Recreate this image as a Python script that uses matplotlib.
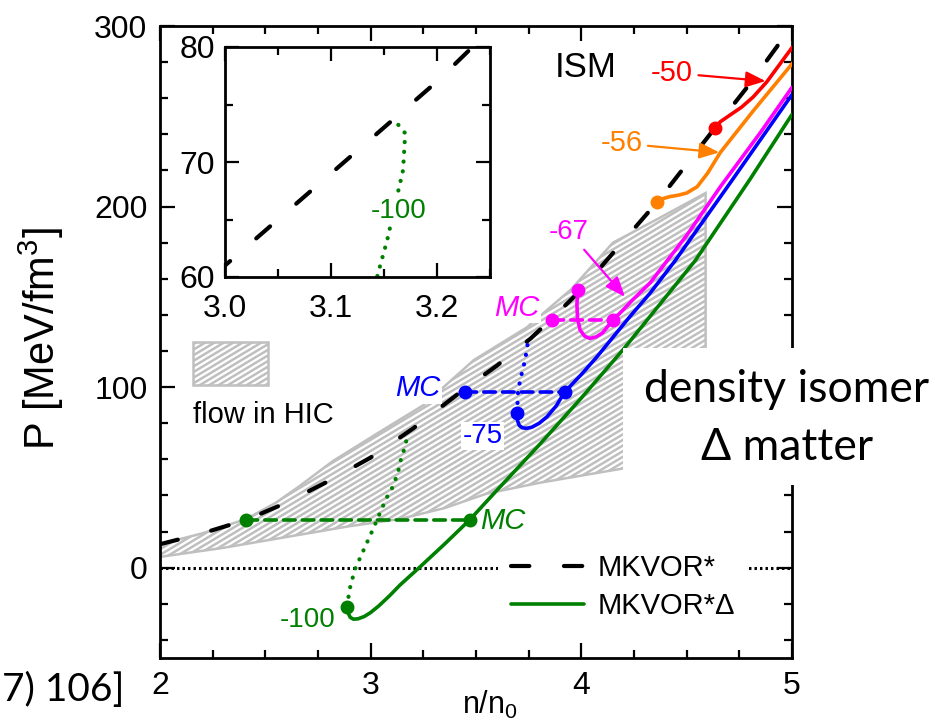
import numpy as np
import matplotlib
matplotlib.use('Agg')
import matplotlib.pyplot as plt
from matplotlib.patches import Polygon, Rectangle, PathPatch
from matplotlib.collections import LineCollection
from matplotlib.ticker import MultipleLocator, FixedLocator

plt.rcParams['font.family'] = ['Liberation Sans', 'DejaVu Sans']
plt.rcParams['mathtext.fontset'] = 'custom'
plt.rcParams['mathtext.rm'] = 'Liberation Sans'
plt.rcParams['mathtext.it'] = 'Liberation Sans:italic'

# MKVOR* (no Delta), ISM
mkvor_n = [2.0, 2.2, 2.41, 2.6, 2.8, 3.0, 3.2, 3.44, 3.6, 3.76, 3.86, 4.0, 4.2, 4.36, 4.634, 4.8, 5.0]
mkvor_p = [13, 19, 26.5, 36, 48, 61, 77, 98.5, 112, 127, 138, 154, 181, 202.5, 243.5, 268, 300]

# flow constraint from heavy-ion collisions
hic_up_n = [2.0, 2.2, 2.41, 2.55, 2.66, 2.82, 3.04, 3.25, 3.49, 3.74, 3.95, 4.15, 4.36, 4.59]
hic_up_p = [13, 19, 27, 36, 45, 59, 75, 90, 115, 133, 154, 180, 193, 207.5]
hic_lo_n = [2.0, 2.3, 2.6, 2.9, 3.14, 3.35, 3.55, 3.8, 4.2, 4.59]
hic_lo_p = [6, 11, 17, 23, 27, 33, 41, 47, 55, 58]

# MKVOR*Delta, U_Delta = -100 MeV
g_n = [2.888, 2.893, 2.903, 2.918, 2.94, 2.97, 3.0, 3.04, 3.09, 3.14, 3.23, 3.35, 3.47,
       3.6, 3.8, 4.0, 4.2, 4.54, 4.8, 5.0]
g_p = [-21.5, -25, -27.5, -28.5, -28.3, -27, -24.8, -21, -15.5, -9.5, 0, 13, 26.5,
       43, 68, 94, 121, 170, 215, 251]
g_dot_n = [2.888, 2.90, 2.925, 2.95, 3.006, 3.03, 3.054, 3.077, 3.106, 3.13, 3.144, 3.153, 3.163, 3.168, 3.170, 3.162]
g_dot_p = [-21.5, -12, -1, 5.5, 20, 26.5, 33, 39, 45, 53, 60.2, 63.2, 67.3, 69.3, 72.5, 73.4]
g_mc = (26.5, 2.41, 3.47)

# U_Delta = -75 MeV
b_n = [3.695, 3.697, 3.705, 3.72, 3.74, 3.765, 3.80, 3.837, 3.88, 3.922, 4.0, 4.074, 4.23, 4.326, 4.445, 4.7, 5.0]
b_p = [85.8, 81.5, 78.8, 77.5, 77.2, 77.8, 80, 83.6, 89.5, 97.5, 107, 116.8, 139, 152, 170, 212, 262]
b_dot_n = [3.695, 3.70, 3.718, 3.733, 3.748]
b_dot_p = [85.8, 98.5, 108, 115, 126]
b_mc = (97.5, 3.448, 3.922)

# U_Delta = -67 MeV
m_n = [3.984, 3.979, 3.982, 3.994, 4.015, 4.04, 4.07, 4.10, 4.15, 4.2, 4.245, 4.326, 4.5, 4.66, 4.85, 5.0]
m_p = [154, 146, 138, 131.7, 128.3, 127, 127.8, 130, 137, 143, 148.5, 157.7, 184, 211, 241, 266]
m_mc = (137, 3.86, 4.15)

# U_Delta = -56 MeV
o_n = [4.36, 4.39, 4.42, 4.46, 4.50, 4.55, 4.60, 4.66, 4.816, 5.0]
o_p = [202.5, 204.5, 205.5, 206.3, 207.5, 211, 218.6, 230, 253, 279]

# U_Delta = -50 MeV
r_n = [4.634, 4.66, 4.706, 4.76, 4.815, 4.88, 5.0]
r_p = [243.5, 247, 250.7, 255, 260.6, 269, 288]

RED, ORANGE, MAG, BLUE, GREEN = '#ff0000', '#ff8000', '#ff00ff', '#0000ff', '#008000'
HATCH = '#bfbfbf'
LW = 2.6


def hatched(ax, patch, spacing=0.0148, slope=0.6):
    patch.set_facecolor('white')
    patch.set_edgecolor('none')
    patch.set_zorder(1)
    ax.add_patch(patch)
    cs = np.arange(-1.0 / slope - 0.1, 1.1, spacing)
    segs = [[(c, 0.0), (c + 1.0 / slope, 1.0)] for c in cs]
    lc = LineCollection(segs, colors=HATCH, linewidths=1.8, transform=ax.transAxes, zorder=1.1)
    ax.add_collection(lc, autolim=False)
    lc.set_clip_path(patch)
    edge = PathPatch(patch.get_path(), transform=patch.get_transform(), fill=False,
                     edgecolor=HATCH, lw=1.8, zorder=1.2)
    ax.add_patch(edge)


fig = plt.figure(figsize=(9.35, 7.22), dpi=100)
ax = fig.add_axes([160 / 935, 64 / 722, 632 / 935, 632 / 722])
ax.set_xlim(2, 5)
ax.set_ylim(-50, 300)

# hatched flow region
band = Polygon(list(zip(hic_up_n, hic_up_p)) + list(zip(hic_lo_n[::-1], hic_lo_p[::-1])),
               closed=True, transform=ax.transData)
hatched(ax, band)
key = Rectangle((0.0522, 0.432), 0.1187, 0.068, transform=ax.transAxes)
hatched(ax, key)
ax.text(0.0522, 0.3845, 'flow in HIC', transform=ax.transAxes, fontsize=21,
        ha='left', va='center')

# zero line
ax.axhline(0, color='black', lw=2.2, ls=(0, (0.8, 1.0)), zorder=2)

# MKVOR*
dash_style = (0, (4.4, 8.3))
mk_line, = ax.plot(mkvor_n, mkvor_p, color='black', lw=3.0, ls=dash_style,
                   dash_capstyle='round', zorder=3)

# Delta curves
mc_ls = (0, (3.2, 2.0))
dot_ls = (0, (0.05, 2.3))
for col, n, p, mc, dn, dp in [(GREEN, g_n, g_p, g_mc, g_dot_n, g_dot_p),
                              (BLUE, b_n, b_p, b_mc, b_dot_n, b_dot_p),
                              (MAG, m_n, m_p, m_mc, None, None)]:
    ln, = ax.plot(n, p, color=col, lw=LW, zorder=4, solid_capstyle='round',
                  solid_joinstyle='round')
    if col == GREEN:
        green_line = ln
    ax.plot([mc[1], mc[2]], [mc[0], mc[0]], color=col, lw=LW, ls=mc_ls,
            dash_capstyle='round', marker='o', ms=9, zorder=4)
    if dn is not None:
        ax.plot(dn, dp, color=col, lw=3.0, ls=dot_ls, dash_capstyle='round', zorder=4)
    ax.plot(n[0], p[0], 'o', color=col, ms=9, zorder=5)

for col, n, p in [(ORANGE, o_n, o_p), (RED, r_n, r_p)]:
    ax.plot(n, p, color=col, lw=LW, zorder=4, solid_joinstyle='round')
    ax.plot(n[0], p[0], 'o', color=col, ms=9, zorder=5)

# labels
wbox = dict(facecolor='white', edgecolor='none', pad=1)
ax.text(4.02, 277, 'ISM', fontsize=25, ha='center', va='center', zorder=6)
ax.text(2.70, -29, '-100', color=GREEN, fontsize=20, ha='center', va='center', zorder=6)
ax.text(3.52, 26, 'MC', color=GREEN, fontsize=21, style='italic', ha='left', va='center', zorder=8)
ax.text(3.53, 73, '-75', color=BLUE, fontsize=20, ha='center', va='center', zorder=6, bbox=wbox)
ax.text(3.33, 99.5, 'MC', color=BLUE, fontsize=21, style='italic', ha='right', va='center',
        zorder=6, bbox=wbox)
ax.text(3.80, 144, 'MC', color=MAG, fontsize=21, style='italic', ha='right', va='center',
        zorder=6, bbox=wbox)

arrow = dict(arrowstyle='-|>,head_length=0.55,head_width=0.22', lw=1.6, mutation_scale=22,
             shrinkA=2, shrinkB=0)
ax.annotate('-67', xy=(4.207, 150), xytext=(3.94, 186), color=MAG, fontsize=20,
            ha='center', va='center', zorder=6, arrowprops=dict(arrow, color=MAG))
ax.annotate('-56', xy=(4.655, 230), xytext=(4.19, 235), color=ORANGE, fontsize=21,
            ha='center', va='center', zorder=6, arrowprops=dict(arrow, color=ORANGE))
ax.annotate('-50', xy=(4.875, 269.5), xytext=(4.43, 274), color=RED, fontsize=21,
            ha='center', va='center', zorder=6, arrowprops=dict(arrow, color=RED))

leg = ax.legend([mk_line, green_line], ['MKVOR*', 'MKVOR*Δ'], loc='center left',
                bbox_to_anchor=(0.535, 0.112), fontsize=21, frameon=True, fancybox=False,
                edgecolor='none', facecolor='white', framealpha=1, handlelength=2.5,
                handletextpad=0.45, labelspacing=0.35, borderpad=0.45, borderaxespad=0)
leg.set_zorder(7)

# axes styling
ax.xaxis.set_major_locator(FixedLocator([2, 3, 4, 5]))
ax.xaxis.set_minor_locator(MultipleLocator(0.25))
ax.yaxis.set_major_locator(FixedLocator([0, 100, 200, 300]))
ax.yaxis.set_minor_locator(MultipleLocator(20))
ax.tick_params(which='both', direction='in', top=True, right=True, width=1.6, labelsize=23)
ax.tick_params(which='major', length=11, pad=9)
ax.tick_params(which='minor', length=6)
for s in ax.spines.values():
    s.set_linewidth(2.0)
ax.set_xlabel('n/n$_\\mathregular{0}$', fontsize=22)
ax.xaxis.set_label_coords(0.522, -0.049)
ax.set_ylabel('P [MeV/fm$^\\mathregular{3}$]', fontsize=30)
ax.yaxis.set_label_coords(-0.148, 0.505)

# inset
axin = fig.add_axes([225 / 935, (722 - 277) / 722, 265 / 935, 230 / 722])
axin.set_xlim(3.0, 3.25)
axin.set_ylim(60, 80)
axin.plot(mkvor_n, mkvor_p, color='black', lw=3.0, ls=dash_style, dash_capstyle='round')
axin.plot(g_dot_n, g_dot_p, color=GREEN, lw=3.0, ls=dot_ls, dash_capstyle='round')
axin.text(3.164, 65.7, '-100', color=GREEN, fontsize=20, ha='center', va='center', bbox=wbox)
axin.xaxis.set_major_locator(FixedLocator([3.0, 3.1, 3.2]))
axin.xaxis.set_minor_locator(MultipleLocator(0.05))
axin.yaxis.set_major_locator(FixedLocator([60, 70, 80]))
axin.yaxis.set_minor_locator(MultipleLocator(5))
axin.set_xticklabels(['3.0', '3.1', '3.2'])
axin.tick_params(which='both', direction='in', top=True, right=True, width=1.6, labelsize=23)
axin.tick_params(which='major', length=10, pad=7)
axin.tick_params(axis='x', which='major', pad=12)
axin.tick_params(which='minor', length=6)
for s in axin.spines.values():
    s.set_linewidth(2.0)

# text box overlapping the right spine
fig.add_artist(Rectangle((623 / 935, (722 - 485) / 722), 312 / 935, 137 / 722,
                         transform=fig.transFigure, facecolor='white', edgecolor='none', zorder=5))
fig.text(787 / 935, 1 - 390 / 722, 'density isomer', fontsize=32, family=['Lato', 'DejaVu Sans'],
         ha='center', va='center', zorder=6)
fig.text(787 / 935, 1 - 447 / 722, 'Δ matter', fontsize=32, family=['Lato', 'DejaVu Sans'],
         ha='center', va='center', zorder=6)
fig.text(0.002, 1 - 690 / 722, '7) 106]', fontsize=28, family=['Lato', 'DejaVu Sans'],
         ha='left', va='center', zorder=6)

fig.savefig('out.png', dpi=100)
